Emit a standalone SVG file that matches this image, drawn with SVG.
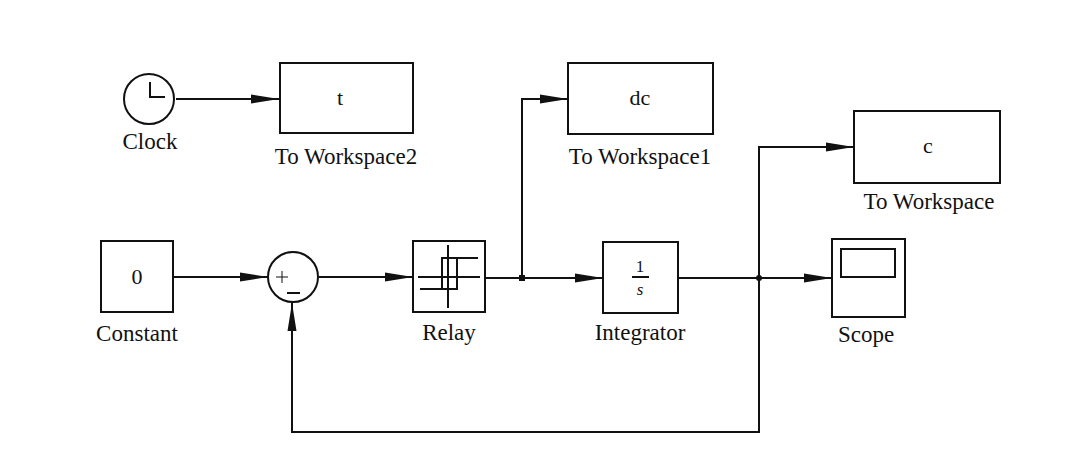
<svg xmlns="http://www.w3.org/2000/svg" width="1080" height="460" viewBox="0 0 1080 460">
<defs>
<marker id="arr" markerUnits="userSpaceOnUse" markerWidth="30" markerHeight="12" refX="28" refY="6" orient="auto">
<path d="M0,1.5 L28,6 L0,10.5 Z" fill="#111"/>
</marker>
</defs>
<style>
.blk{fill:#fff;stroke:#111;stroke-width:2}
.ln{fill:none;stroke:#111;stroke-width:2}
.lbl{font-family:"Liberation Serif","Times New Roman",serif;font-size:23px;fill:#111;text-anchor:middle}
.in{font-family:"Liberation Serif","Times New Roman",serif;font-size:22px;fill:#111;text-anchor:middle}
.frac{font-family:"Liberation Serif","Times New Roman",serif;font-size:17px;fill:#111;text-anchor:middle}
</style>
<rect width="1080" height="460" fill="#fff"/>
<g id="connectors">
<line class="ln" x1="176" y1="99" x2="279" y2="99" marker-end="url(#arr)"/>
<line class="ln" x1="173" y1="277" x2="268" y2="277" marker-end="url(#arr)"/>
<line class="ln" x1="319" y1="277" x2="413" y2="277" marker-end="url(#arr)"/>
<line class="ln" x1="485" y1="278" x2="522" y2="278"/>
<polyline class="ln" points="522,278 522,99 568,99" marker-end="url(#arr)"/>
<line class="ln" x1="522" y1="278" x2="603" y2="278" marker-end="url(#arr)"/>
<line class="ln" x1="678" y1="278" x2="832" y2="278" marker-end="url(#arr)"/>
<polyline class="ln" points="759,278 759,147 854,147" marker-end="url(#arr)"/>
<polyline class="ln" points="759,278 759,432 292,432 292,303" marker-end="url(#arr)"/>
<rect x="519" y="275" width="6" height="6" fill="#111"/>
<circle cx="759" cy="278" r="3" fill="#111"/>
</g>
<g id="clock">
<circle class="blk" cx="149" cy="99" r="25"/>
<polyline class="ln" points="150,82 150,97 165,97"/>
<text class="lbl" x="150" y="149">Clock</text>
</g>
<g id="toworkspace2">
<rect class="blk" x="280" y="63" width="133" height="70"/>
<text class="in" x="340" y="105">t</text>
<text class="lbl" x="346" y="164">To Workspace2</text>
</g>
<g id="toworkspace1">
<rect class="blk" x="568" y="63" width="145" height="71"/>
<text class="in" x="640" y="105">dc</text>
<text class="lbl" x="640" y="164">To Workspace1</text>
</g>
<g id="toworkspace">
<rect class="blk" x="854" y="111" width="146" height="72"/>
<text class="in" x="928" y="153">c</text>
<text class="lbl" x="929" y="209">To Workspace</text>
</g>
<g id="constant">
<rect class="blk" x="101" y="241" width="72" height="71"/>
<text class="in" x="137" y="284">0</text>
<text class="lbl" x="137" y="341">Constant</text>
</g>
<g id="sum">
<circle class="blk" cx="293" cy="277" r="25"/>
<line stroke="#111" stroke-width="1" x1="276" y1="277" x2="288" y2="277"/>
<line stroke="#111" stroke-width="1" x1="282" y1="271" x2="282" y2="283"/>
<line stroke="#111" stroke-width="2" x1="287" y1="293" x2="300" y2="293"/>
</g>
<g id="relay">
<rect class="blk" x="413" y="241" width="72" height="71"/>
<line class="ln" x1="448" y1="245" x2="448" y2="308"/>
<line class="ln" x1="418" y1="277" x2="480" y2="277"/>
<polyline class="ln" points="442,289 442,258 478,258"/>
<polyline class="ln" points="420,289 457,289 457,258"/>
<text class="lbl" x="449" y="340">Relay</text>
</g>
<g id="integrator">
<rect class="blk" x="603" y="242" width="75" height="71"/>
<text class="frac" x="640" y="272">1</text>
<line stroke="#111" stroke-width="2" x1="632" y1="277" x2="649" y2="277"/>
<text class="frac" x="640" y="295" font-style="italic">s</text>
<text class="lbl" x="640" y="340">Integrator</text>
</g>
<g id="scope">
<rect class="blk" x="832" y="239" width="73" height="78"/>
<rect class="blk" x="841" y="249" width="54" height="28"/>
<text class="lbl" x="866" y="342">Scope</text>
</g>
</svg>
